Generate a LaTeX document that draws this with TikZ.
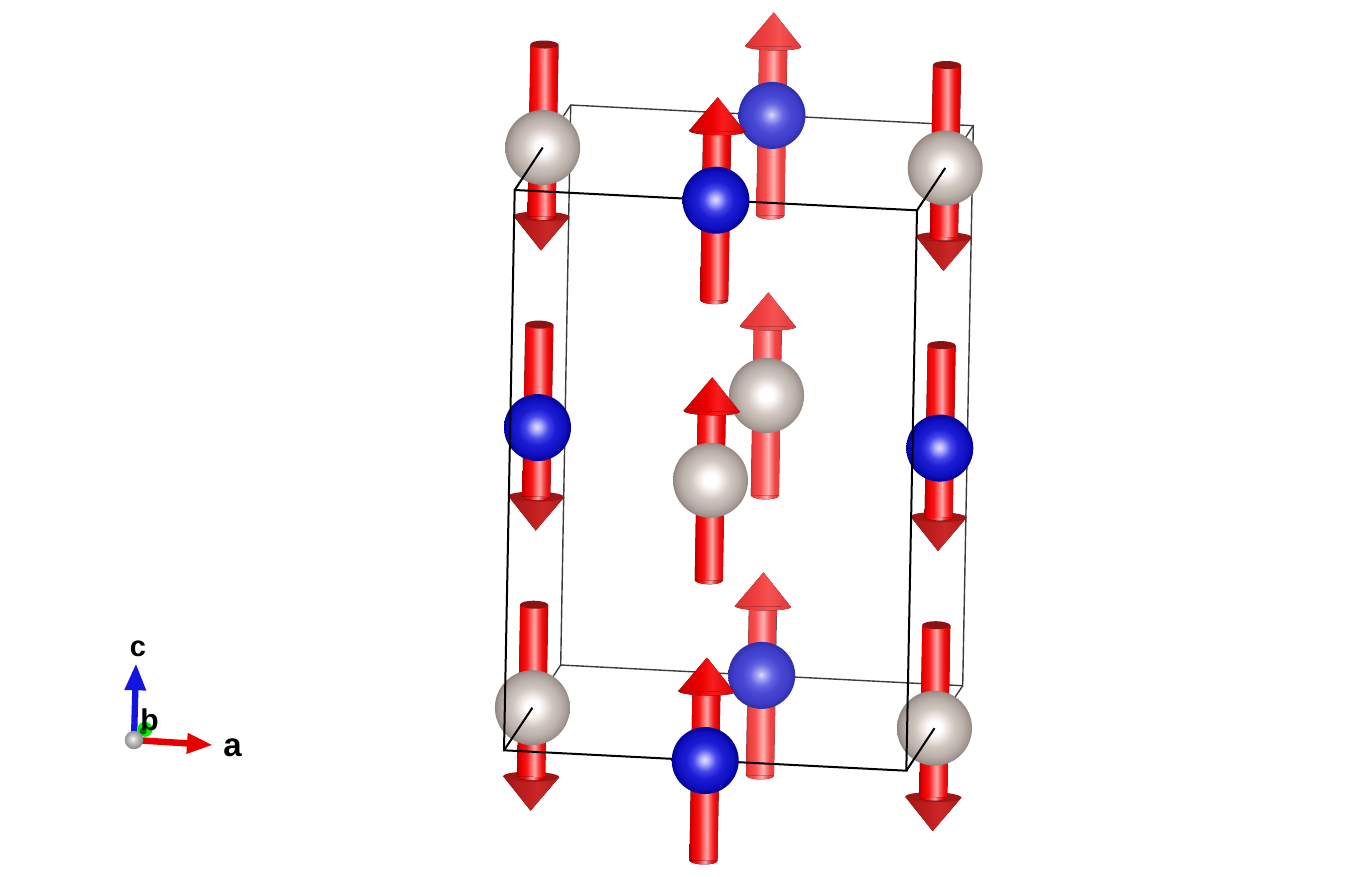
\documentclass[tikz,border=0pt]{standalone}
\usepackage{fontspec}
\newfontfamily\axisfont{Liberation Sans}
\usetikzlibrary{arrows.meta}

% shaft and cone colours
\definecolor{shA}{RGB}{180,0,0}
\definecolor{shB}{RGB}{230,0,0}
\definecolor{shC}{RGB}{246,22,22}
\definecolor{shG}{RGB}{255,115,115}
\definecolor{shD}{RGB}{255,168,168}
\definecolor{shH}{RGB}{250,90,90}
\definecolor{shE}{RGB}{238,22,22}
\definecolor{shF}{RGB}{195,0,0}
\definecolor{bsA}{RGB}{212,48,48}
\definecolor{bsB}{RGB}{236,62,62}
\definecolor{bsC}{RGB}{246,80,80}
\definecolor{bsG}{RGB}{255,140,140}
\definecolor{bsD}{RGB}{255,178,178}
\definecolor{bsH}{RGB}{250,120,120}
\definecolor{bsE}{RGB}{240,68,68}
\definecolor{bsF}{RGB}{216,50,50}
\definecolor{cnA}{RGB}{195,0,0}
\definecolor{cnB}{RGB}{236,0,0}
\definecolor{cnC}{RGB}{250,28,28}
\definecolor{cnD}{RGB}{212,0,0}
\definecolor{bcA}{RGB}{218,50,50}
\definecolor{bcB}{RGB}{240,64,64}
\definecolor{bcC}{RGB}{246,82,82}
\definecolor{bcD}{RGB}{224,54,54}
\definecolor{dcA}{RGB}{165,22,22}
\definecolor{dcB}{RGB}{192,30,30}
\definecolor{dcC}{RGB}{202,40,40}
\definecolor{dcD}{RGB}{180,26,26}
\definecolor{dconetop}{RGB}{160,22,22}
\definecolor{capred}{RGB}{140,18,18}
% atom colours
\definecolor{gyA}{RGB}{240,232,228}
\definecolor{gyB}{RGB}{208,199,193}
\definecolor{gyC}{RGB}{187,177,170}
\definecolor{gyE}{RGB}{165,154,147}
\definecolor{gyD}{RGB}{145,134,127}
\definecolor{blA}{RGB}{225,225,255}
\definecolor{blB}{RGB}{180,180,255}
\definecolor{blC}{RGB}{70,70,235}
\definecolor{blF}{RGB}{28,28,212}
\definecolor{blD}{RGB}{15,15,192}
\definecolor{blE}{RGB}{0,0,150}
\definecolor{bbA}{RGB}{225,225,255}
\definecolor{bbB}{RGB}{170,170,245}
\definecolor{bbC}{RGB}{100,100,228}
\definecolor{bbF}{RGB}{72,72,212}
\definecolor{bbD}{RGB}{60,60,200}
\definecolor{bbE}{RGB}{45,45,170}
\definecolor{orA}{RGB}{250,250,250}
\definecolor{orB}{RGB}{205,205,205}
\definecolor{orC}{RGB}{140,140,140}
\definecolor{axred}{RGB}{232,0,0}
\definecolor{axblue}{RGB}{20,20,225}
\definecolor{axgreen}{RGB}{0,235,0}
\definecolor{axgreendk}{RGB}{0,110,0}
\definecolor{edgegray}{RGB}{60,60,60}

\pgfdeclarehorizontalshading{fshaft}{100bp}{color(0bp)=(shA); color(25bp)=(shA); color(30bp)=(shB); color(40bp)=(shC); color(48bp)=(shG); color(53bp)=(shD); color(58bp)=(shH); color(64bp)=(shE); color(70bp)=(shB); color(75bp)=(shF); color(100bp)=(shF)}
\pgfdeclarehorizontalshading{bshaft}{100bp}{color(0bp)=(bsA); color(25bp)=(bsA); color(30bp)=(bsB); color(40bp)=(bsC); color(48bp)=(bsG); color(53bp)=(bsD); color(58bp)=(bsH); color(64bp)=(bsE); color(70bp)=(bsB); color(75bp)=(bsF); color(100bp)=(bsF)}
\pgfdeclarehorizontalshading{fcone}{100bp}{color(0bp)=(cnA); color(25bp)=(cnA); color(45bp)=(cnB); color(55bp)=(cnC); color(75bp)=(cnD); color(100bp)=(cnD)}
\pgfdeclarehorizontalshading{bcone}{100bp}{color(0bp)=(bcA); color(25bp)=(bcA); color(45bp)=(bcB); color(55bp)=(bcC); color(75bp)=(bcD); color(100bp)=(bcD)}
\pgfdeclarehorizontalshading{dcone}{100bp}{color(0bp)=(dcA); color(25bp)=(dcA); color(45bp)=(dcB); color(55bp)=(dcC); color(75bp)=(dcD); color(100bp)=(dcD)}
\pgfdeclareradialshading{grayball}{\pgfpoint{0bp}{0.5bp}}{color(0bp)=(white); color(4.5bp)=(white); color(8bp)=(gyA); color(13bp)=(gyB); color(19bp)=(gyC); color(23bp)=(gyE); color(25bp)=(gyD); color(50bp)=(gyD)}
\pgfdeclareradialshading{blueball}{\pgfpoint{-0.5bp}{0.5bp}}{color(0bp)=(blA); color(3bp)=(blB); color(8.5bp)=(blC); color(14bp)=(blF); color(21bp)=(blD); color(25bp)=(blE); color(50bp)=(blE)}
\pgfdeclareradialshading{bblueball}{\pgfpoint{-0.5bp}{0.5bp}}{color(0bp)=(bbA); color(3bp)=(bbB); color(8.5bp)=(bbC); color(14bp)=(bbF); color(21bp)=(bbD); color(25bp)=(bbE); color(50bp)=(bbE)}
\pgfdeclareradialshading{originball}{\pgfpoint{-4bp}{4bp}}{color(0bp)=(orA); color(8bp)=(orB); color(25bp)=(orC); color(50bp)=(orC)}

\tikzset{
  grayatom/.style={circle,inner sep=0pt,minimum size=75pt,shading=grayball},
  blueatom/.style={circle,inner sep=0pt,minimum size=67pt,shading=blueball},
  bblueatom/.style={circle,inner sep=0pt,minimum size=67pt,shading=bblueball},
  frontedge/.style={line width=2pt,black},
  backedge/.style={line width=1.4pt,edgegray},
  axlabel/.style={font=\axisfont\bfseries\fontsize{#1}{#1}\selectfont,anchor=base,inner sep=0pt}
}

% spin pointing up: position, shaft shading, cone shading
\newcommand{\spinup}[3]{%
  \begin{scope}[shift={(#1)},rotate=-1]
    \fill[shading=#2] (0,100) ellipse[x radius=14,y radius=4];
    \fill[shading=#2] (-14,-69) rectangle (14,100);
    \fill[shading=#3] (0,-69) ellipse[x radius=28,y radius=4];
    \fill[shading=#3] (-28,-69) -- (0,-103) -- (28,-69) -- cycle;
  \end{scope}}
% spin pointing down: position
\newcommand{\spindown}[1]{%
  \begin{scope}[shift={(#1)},rotate=-1]
    \fill[shading=dcone] (-28,69) -- (0,103) -- (28,69) -- cycle;
    \fill[dconetop] (0,69) ellipse[x radius=28,y radius=5];
    \fill[shading=fshaft] (0,69) ellipse[x radius=14,y radius=3.5];
    \fill[shading=fshaft] (-14,-103) rectangle (14,69);
    \fill[capred] (0,-103) ellipse[x radius=14,y radius=4];
  \end{scope}}

\begin{document}
\begin{tikzpicture}[x=1pt,y=-1pt]
  \path[use as bounding box,fill=white] (0,0) rectangle (1346,876);
  % cell corners
  \coordinate (fTL) at (514.7,190);
  \coordinate (fTR) at (917,210.3);
  \coordinate (fBL) at (504,750.3);
  \coordinate (fBR) at (906.3,770.7);
  \coordinate (kTL) at (570.7,105);
  \coordinate (kTR) at (973.3,125.7);
  \coordinate (kBL) at (560.7,665);
  \coordinate (kBR) at (962.7,685.7);

  \draw[backedge] (kTL) -- (kTR) -- (kBR) -- (kBL) -- cycle;
  \draw[backedge] (fTL) -- (kTL);
  \draw[backedge] (fTR) -- (kTR);
  \draw[backedge] (fBL) -- (kBL);
  \draw[backedge] (fBR) -- (kBR);

  % back layer
  \spinup{772,115.4}{bshaft}{bcone}
  \node[bblueatom] (bT) at (772,115.4) {};
  \spinup{766.6,395.4}{bshaft}{bcone}
  \node[grayatom] (gM) at (766.6,395.4) {};
  \spinup{761.7,675.4}{bshaft}{bcone}
  \node[bblueatom] (bB) at (761.7,675.4) {};

  % side faces
  \spindown{542.7,147.5}
  \node[grayatom] (gTL) at (542.7,147.5) {};
  \spindown{945.2,168}
  \node[grayatom] (gTR) at (945.2,168) {};
  \spindown{537.5,427.6}
  \node[blueatom] (uL) at (537.5,427.6) {};
  \spindown{939.8,448.1}
  \node[blueatom] (uR) at (939.8,448.1) {};
  \spindown{532.4,707.7}
  \node[grayatom] (gBL) at (532.4,707.7) {};
  \spindown{934.5,728.2}
  \node[grayatom] (gBR) at (934.5,728.2) {};

  \draw[frontedge] (fTL) -- (gTL.center);
  \draw[frontedge] (fTR) -- (gTR.center);
  \draw[frontedge] (fBL) -- (gBL.center);
  \draw[frontedge] (fBR) -- (gBR.center);
  \draw[frontedge] (fTL) -- (fTR) -- (fBR) -- (fBL) -- cycle;

  % front layer
  \spinup{715.9,200.2}{fshaft}{fcone}
  \node[blueatom] (fT) at (715.9,200.2) {};
  \spinup{710.5,480.3}{fshaft}{fcone}
  \node[grayatom] (fM) at (710.5,480.3) {};
  \spinup{705.2,760.5}{fshaft}{fcone}
  \node[blueatom] (fB) at (705.2,760.5) {};

  % axes
  \coordinate (O) at (134,740);
  \coordinate (tc) at (136,663.3);
  \coordinate (ta) at (213,745);
  \fill[axgreen] (145,729.3) circle (7.5);
  \fill[axgreendk] (143,731) circle (3.5);
  \draw[axblue,line width=6.3pt,-{Triangle[length=27pt,width=20pt]}] (O) -- (tc);
  \draw[axred,line width=6.5pt,-{Triangle[length=26pt,width=19pt]}] (O) -- (ta);
  \node[circle,inner sep=0pt,minimum size=18.5pt,shading=originball] (ob) at (O) {};
  \node[axlabel=29] (lc) at (138,656) {c};
  \node[axlabel=30] (lb) at (149.5,730) {b};
  \node[axlabel=33] (la) at (232.5,756) {a};
\end{tikzpicture}
\end{document}
